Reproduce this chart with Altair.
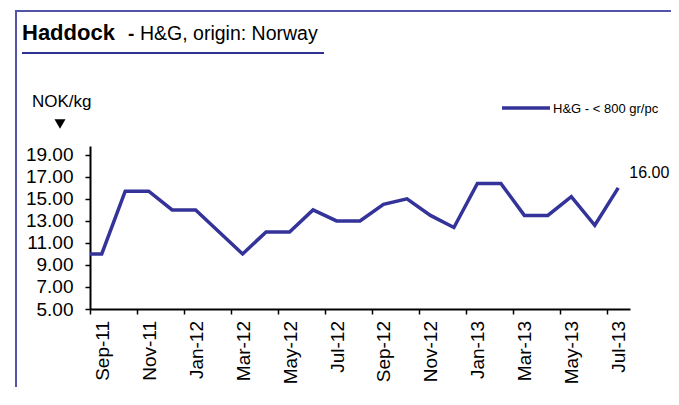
import altair as alt
import pandas as pd

# ---- data ----
months = ["Aug-11", "Sep-11", "Oct-11", "Nov-11", "Dec-11", "Jan-12", "Feb-12", "Mar-12",
          "Apr-12", "May-12", "Jun-12", "Jul-12", "Aug-12", "Sep-12", "Oct-12", "Nov-12",
          "Dec-12", "Jan-13", "Feb-13", "Mar-13", "Apr-13", "May-13", "Jun-13", "Jul-13"]
prices = [10.0, 10.0, 15.7, 15.7, 14.0, 14.0, 12.0, 10.0,
          12.0, 12.0, 14.0, 13.0, 13.0, 14.5, 15.0, 13.5,
          12.4, 16.4, 16.4, 13.5, 13.5, 15.2, 12.6, 16.0]
month_index = list(range(-1, 23))
tick_labels = months[1::2]
tick_index = month_index[1::2]
y_ticks = [5, 7, 9, 11, 13, 15, 17, 19]
x_tick_bounds = [i - 0.5 for i in tick_index]

title_main = "Haddock"
title_dash = "-"
title_rest = "H&G, origin: Norway"
unit_label = "NOK/kg"
series_name = "H&G - < 800 gr/pc"

df = pd.DataFrame({"i": month_index, "month": months, "price": prices})
lab_df = pd.DataFrame({"i": tick_index, "month": tick_labels})
one = pd.DataFrame({"a": [0]})

W, H = 540, 163
FONT = "Liberation Sans"
LINE_COLOR = "#333399"
BORDER_COLOR = "#5353a8"

xscale = alt.Scale(domain=[-0.5, 22.5], nice=False, zero=False)
yscale = alt.Scale(domain=[5, 19.8], nice=False, zero=False)

x_axis = alt.Axis(values=x_tick_bounds, labels=False, title=None, grid=False,
                  tickSize=5, tickColor="black", tickWidth=1.5,
                  domainColor="black", domainWidth=2)
y_axis = alt.Axis(values=y_ticks, format=".2f", title=None, grid=False,
                  labelFontSize=19, labelFont=FONT, labelColor="black",
                  labelOverlap=False, labelBound=False, labelFlush=False,
                  labelPadding=12, tickSize=5, tickColor="black", tickWidth=1.5,
                  domainColor="black", domainWidth=2)

x_enc = alt.X("i:Q", scale=xscale, axis=x_axis)
y_enc = alt.Y("price:Q", scale=yscale, axis=y_axis)

line = alt.Chart(df).mark_line(color=LINE_COLOR, strokeWidth=3.5, clip=True).encode(
    x=x_enc, y=y_enc)

xlabels = alt.Chart(lab_df).mark_text(
    angle=270, align="right", baseline="middle", fontSize=19, font=FONT, color="black", dy=1
).encode(x=x_enc, y=alt.value(H + 12), text="month:N")

last = alt.Chart(df.tail(1)).mark_text(
    align="left", baseline="alphabetic", dx=11, dy=-10, fontSize=16, font=FONT, color="black"
).encode(x=x_enc, y=y_enc, text=alt.Text("price:Q", format=".2f"))

def txt(s, x, y, size, bold=False):
    return alt.Chart(one).mark_text(
        align="left", baseline="alphabetic", fontSize=size, font=FONT,
        fontWeight="bold" if bold else "normal", color="black", text=s
    ).encode(x=alt.value(x), y=alt.value(y))

t1 = txt(title_main, -68, -106, 22, True)
t2 = txt(title_dash, 38, -106, 19, True)
t3 = txt(title_rest, 50, -106, 19.5)
t4 = txt(unit_label, -58, -39, 17)
t5 = txt(series_name, 463, -33, 13)

underline = alt.Chart(one).mark_rule(color="#2e3192", strokeWidth=2).encode(
    x=alt.value(-68), x2=alt.value(234), y=alt.value(-93))
tri = alt.Chart(one).mark_point(shape="triangle-down", filled=True, color="black",
                                size=121, opacity=1).encode(
    x=alt.value(-30), y=alt.value(-22))
leg_line = alt.Chart(one).mark_rule(color=LINE_COLOR, strokeWidth=3.5).encode(
    x=alt.value(412), x2=alt.value(460), y=alt.value(-38))
border_left = alt.Chart(one).mark_rule(color=BORDER_COLOR, strokeWidth=2).encode(
    x=alt.value(-74), y=alt.value(-135), y2=alt.value(300))
border_top = alt.Chart(one).mark_rule(color=BORDER_COLOR, strokeWidth=2).encode(
    x=alt.value(-75), x2=alt.value(620), y=alt.value(-135))

chart = alt.layer(
    line, border_left, border_top, xlabels, last, t1, t2, t3, underline, t4, tri, leg_line, t5
).properties(
    width=W, height=H,
    padding={"left": 82, "top": 138, "right": 41, "bottom": 78},
    autosize=alt.AutoSizeParams(type="none"),
    background="white",
).configure_view(stroke=None)

chart.save("out.html", embed_options={"renderer": "svg", "actions": False})
